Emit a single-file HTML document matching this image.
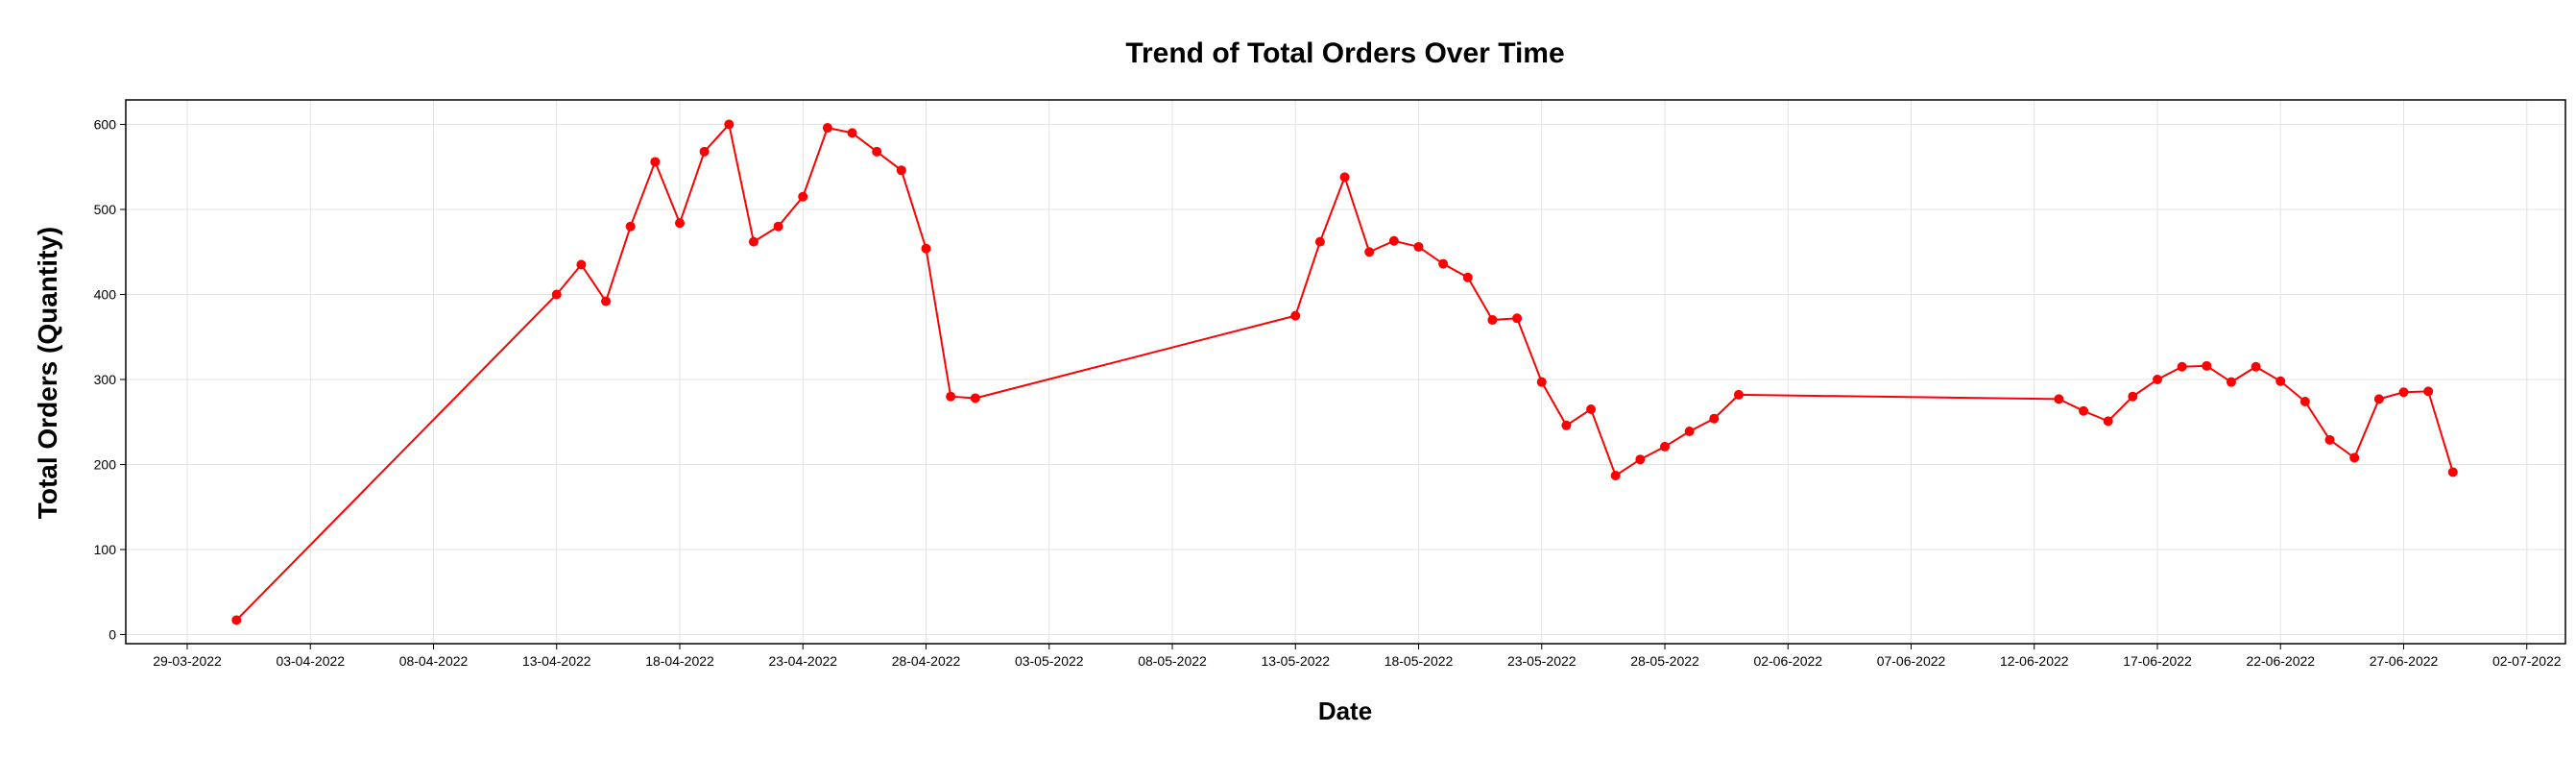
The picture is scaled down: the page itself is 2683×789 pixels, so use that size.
<!DOCTYPE html>
<html><head><meta charset="utf-8"><style>
body{margin:0;background:#fff;}
svg{display:block;font-family:"Liberation Sans","DejaVu Sans",sans-serif;}
</style></head><body>
<svg id="chart" width="2683" height="789" xmlns="http://www.w3.org/2000/svg">
<text x="1401" y="65" text-anchor="middle" font-size="30" font-weight="bold">Trend of Total Orders Over Time</text>
<text x="1401" y="749" text-anchor="middle" font-size="26" font-weight="bold">Date</text>
<text transform="translate(59,388) rotate(-90)" text-anchor="middle" font-size="28" font-weight="bold">Total Orders (Quantity)</text>
<g id="grid"></g><g id="ticks"></g><g id="series"></g>
<rect x="131" y="104" width="2541" height="566" fill="none" stroke="#000" stroke-width="1.5"/>
</svg>
<script>
const dates=["2022-03-31","2022-04-13","2022-04-14","2022-04-15","2022-04-16","2022-04-17","2022-04-18","2022-04-19","2022-04-20","2022-04-21","2022-04-22","2022-04-23","2022-04-24","2022-04-25","2022-04-26","2022-04-27","2022-04-28","2022-04-29","2022-04-30","2022-05-13","2022-05-14","2022-05-15","2022-05-16","2022-05-17","2022-05-18","2022-05-19","2022-05-20","2022-05-21","2022-05-22","2022-05-23","2022-05-24","2022-05-25","2022-05-26","2022-05-27","2022-05-28","2022-05-29","2022-05-30","2022-05-31","2022-06-13","2022-06-14","2022-06-15","2022-06-16","2022-06-17","2022-06-18","2022-06-19","2022-06-20","2022-06-21","2022-06-22","2022-06-23","2022-06-24","2022-06-25","2022-06-26","2022-06-27","2022-06-28","2022-06-29"];
const orders=[17,400,435,392,480,556,484,568,600,462,480,515,596,590,568,546,454,280,278,375,462,538,450,463,456,436,420,370,372,297,246,265,187,206,221,239,254,282,277,263,251,280,300,315,316,297,315,298,274,229,208,277,285,286,191];
const xTicks=["2022-03-29","2022-04-03","2022-04-08","2022-04-13","2022-04-18","2022-04-23","2022-04-28","2022-05-03","2022-05-08","2022-05-13","2022-05-18","2022-05-23","2022-05-28","2022-06-02","2022-06-07","2022-06-12","2022-06-17","2022-06-22","2022-06-27","2022-07-02"];
const yTicks=[0,100,200,300,400,500,600];
const NS="http://www.w3.org/2000/svg";
const t0=Date.UTC(2022,2,29);
function day(s){const p=s.split("-");return (Date.UTC(+p[0],+p[1]-1,+p[2])-t0)/86400000;}
function xs(s){return 195+day(s)*25.65;}
function ys(v){return 660.5-v*0.885;}
function mk(tag,attrs,parent){const e=document.createElementNS(NS,tag);for(const k in attrs)e.setAttribute(k,attrs[k]);document.getElementById(parent).appendChild(e);return e;}
function fmt(s){const p=s.split("-");return p[2]+"-"+p[1]+"-"+p[0];}
xTicks.forEach(d=>{const x=xs(d);
 let g=mk("line",{x1:x,x2:x,y1:104,y2:670,stroke:"#e3e3e3","stroke-width":1},"grid");
 
 
 let t=mk("line",{x1:x,x2:x,y1:670,y2:676,stroke:"#000","stroke-width":1},"ticks");
 
 
 let l=mk("text",{x:x,y:693,"text-anchor":"middle","font-size":14},"ticks");l.textContent=fmt(d);
 
 
});
yTicks.forEach(v=>{const y=ys(v);
 let g=mk("line",{x1:131,x2:2672,y1:y,y2:y,stroke:"#e3e3e3","stroke-width":1},"grid");
 
 
 let t=mk("line",{x1:125,x2:131,y1:y,y2:y,stroke:"#000","stroke-width":1},"ticks");
 
 
 let l=mk("text",{x:121,y:y+5,"text-anchor":"end","font-size":14},"ticks");l.textContent=v;
 
 
});
const pts=dates.map((d,i)=>xs(d)+","+ys(orders[i])).join(" ");
const line=mk("polyline",{points:pts,fill:"none",stroke:"#ff0000","stroke-width":2},"series");


dates.forEach((d,i)=>{
 const c=mk("circle",{cx:xs(d),cy:ys(orders[i]),r:5,fill:"#ff0000"},"series");
 
 
});
</script>
</body></html>
